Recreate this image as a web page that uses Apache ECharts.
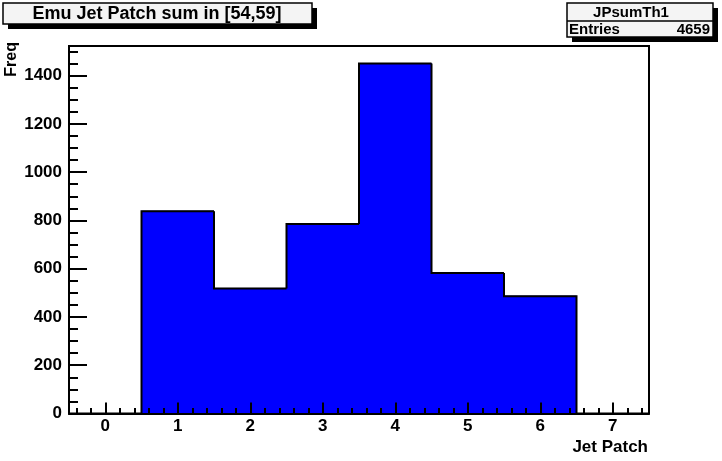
<!DOCTYPE html>
<html>
<head>
<meta charset="utf-8">
<script src="https://cdn.jsdelivr.net/npm/echarts@6/dist/echarts.min.js"></script>
<style>
html,body{margin:0;padding:0;background:#fff;}
#chart{width:722px;height:461px;}
</style>
</head>
<body>
<div id="chart"></div>
<script>
// ---- data ----
const categories = [1, 2, 3, 4, 5, 6];            // jet patch bin centres
const freq = [838, 518, 785, 1450, 582, 486];     // bin contents
const xTickLabels = [0, 1, 2, 3, 4, 5, 6, 7];
const yTickLabels = [0, 200, 400, 600, 800, 1000, 1200, 1400];
const histName = 'JPsumTh1';
const entries = 4659;
const titleText = 'Emu Jet Patch sum in [54,59]';
const xTitle = 'Jet Patch';
const yTitle = 'Freq';

// ---- axis ranges / minor ticks ----
const xMin = -0.5, xMax = 7.5;
const yMax = 1.05 * Math.max.apply(null, freq);
const xMinor = [];
for (let k = -2; k <= 37; k++) {
  const v = Math.round(k * 2) / 10;
  if (Math.abs(v - Math.round(v)) > 1e-6) xMinor.push(v);
}
const yMinor = [];
for (let v = 50; v <= yMax; v += 50) if (v % 200 !== 0) yMinor.push(v);

const FONT = '"Liberation Sans", Arial, Helvetica, sans-serif';
const chart = echarts.init(document.getElementById('chart'), null, {renderer: 'canvas'});

const histData = freq.map((v, i) => [categories[i], v, i > 0 ? freq[i - 1] : 0, i === freq.length - 1 ? 1 : 0]);

const option = {
  animation: false,
  backgroundColor: '#ffffff',
  grid: {left: 69, right: 73, top: 46, bottom: 47.5, show: true, borderColor: '#000', borderWidth: 2, backgroundColor: 'transparent'},
  xAxis: [
    {
      type: 'value', min: xMin, max: xMax, position: 'bottom', z: 10,
      axisLine: {show: true, onZero: false, lineStyle: {color: '#000', width: 2}},
      axisTick: {show: true, inside: true, length: 11, customValues: xTickLabels, lineStyle: {color: '#000', width: 2}},
      axisLabel: {show: true, customValues: xTickLabels, margin: 4, color: '#000', fontFamily: FONT, fontWeight: 'bold', fontSize: 17,
                  formatter: v => String(v)},
      splitLine: {show: false}
    },
    {
      type: 'value', min: xMin, max: xMax, position: 'bottom', z: 10,
      axisLine: {show: false, onZero: false},
      axisTick: {show: true, inside: true, length: 5.5, customValues: xMinor, lineStyle: {color: '#000', width: 2}},
      axisLabel: {show: false},
      splitLine: {show: false}
    }
  ],
  yAxis: [
    {
      type: 'value', min: 0, max: yMax, position: 'left', z: 10,
      axisLine: {show: true, onZero: false, lineStyle: {color: '#000', width: 2}},
      axisTick: {show: true, inside: true, length: 18, customValues: yTickLabels, lineStyle: {color: '#000', width: 2}},
      axisLabel: {show: true, customValues: yTickLabels, margin: 7, color: '#000', fontFamily: FONT, fontWeight: 'bold', fontSize: 17,
                  formatter: v => String(v)},
      splitLine: {show: false}
    },
    {
      type: 'value', min: 0, max: yMax, position: 'left', offset: 0, z: 10,
      axisLine: {show: false, onZero: false},
      axisTick: {show: true, inside: true, length: 9, customValues: yMinor, lineStyle: {color: '#000', width: 2}},
      axisLabel: {show: false},
      splitLine: {show: false}
    }
  ],
  series: [{
    type: 'custom',
    xAxisIndex: 0, yAxisIndex: 0,
    data: histData,
    renderItem: function (params, api) {
      const x = api.value(0), v = api.value(1), p = api.value(2), last = api.value(3);
      const tl = api.coord([x - 0.5, v]);
      const br = api.coord([x + 0.5, 0]);
      const pl = api.coord([x - 0.5, p]);
      const pts = [[tl[0], pl[1]], [tl[0], tl[1]], [br[0], tl[1]]];
      if (last) pts.push([br[0], br[1]]);
      return {
        type: 'group',
        children: [
          {type: 'rect', shape: {x: tl[0], y: tl[1], width: br[0] - tl[0], height: br[1] - tl[1]},
           style: {fill: '#0000ff', stroke: '#0000ff', lineWidth: 1}},
          {type: 'polyline', z2: 10, shape: {points: pts}, style: {stroke: '#000', lineWidth: 2, fill: null}}
        ]
      };
    }
  }],
  graphic: [
    // title box
    {type: 'rect', shape: {x: 8, y: 8, width: 309, height: 21}, style: {fill: '#000'}, z: 20},
    {type: 'rect', shape: {x: 3, y: 3, width: 309, height: 21}, style: {fill: '#f4f4f4', stroke: '#000', lineWidth: 1.5}, z: 21},
    {type: 'text', x: 157, y: 14, style: {text: titleText, fill: '#000', font: 'bold 18px ' + FONT, align: 'center', verticalAlign: 'middle'}, z: 22},
    // stats box
    {type: 'rect', shape: {x: 572, y: 8, width: 146, height: 34}, style: {fill: '#000'}, z: 20},
    {type: 'rect', shape: {x: 567, y: 3, width: 146, height: 34}, style: {fill: '#f4f4f4', stroke: '#000', lineWidth: 1.5}, z: 21},
    {type: 'line', shape: {x1: 567, y1: 21, x2: 713, y2: 21}, style: {stroke: '#000', lineWidth: 1.5}, z: 22},
    {type: 'text', x: 631, y: 12.5, style: {text: histName, fill: '#000', font: 'bold 15px ' + FONT, align: 'center', verticalAlign: 'middle'}, z: 22},
    {type: 'text', x: 569, y: 29.5, style: {text: 'Entries', fill: '#000', font: 'bold 15px ' + FONT, align: 'left', verticalAlign: 'middle'}, z: 22},
    {type: 'text', x: 710, y: 29.5, style: {text: String(entries), fill: '#000', font: 'bold 15px ' + FONT, align: 'right', verticalAlign: 'middle'}, z: 22},
    // axis titles
    {type: 'text', x: 648, y: 447, style: {text: xTitle, fill: '#000', font: 'bold 17px ' + FONT, align: 'right', verticalAlign: 'middle'}, z: 22},
    {type: 'text', x: 12, y: 42, rotation: Math.PI / 2, style: {text: yTitle, fill: '#000', font: 'bold 16px ' + FONT, align: 'right', verticalAlign: 'middle'}, z: 22}
  ]
};
chart.setOption(option);
</script>
</body>
</html>
